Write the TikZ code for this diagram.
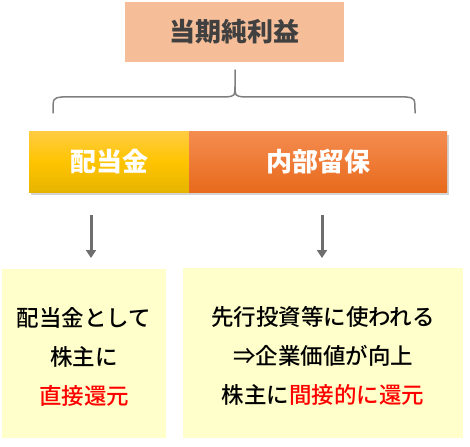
\documentclass[tikz,border=0pt]{standalone}
\usepackage{fontspec}
\setmainfont{Noto Sans CJK JP}
\newfontfamily\medfont{Noto Sans CJK JP Medium}
\usetikzlibrary{shadows,arrows.meta}
\definecolor{peach}{HTML}{F6BE98}
\definecolor{ytop}{HTML}{FFCC40}
\definecolor{ymid}{HTML}{FFC400}
\definecolor{ybot}{HTML}{E6B400}
\definecolor{otop}{HTML}{F48C50}
\definecolor{obot}{HTML}{E86A1C}
\definecolor{pale}{HTML}{FFFFCC}
\definecolor{graybr}{HTML}{7F7F7F}
\definecolor{grayar}{HTML}{6E6E6E}
\definecolor{darktxt}{HTML}{404040}
\definecolor{redtxt}{HTML}{FF0000}
\tikzset{
  box/.style={inner sep=0pt, outer sep=0pt, anchor=north west},
  barlabel/.style={text=white, font=\bfseries\fontsize{26}{30}\selectfont},
  bodytext/.style={font=\medfont\fontsize{22.5}{39}\selectfont, align=center, text=black},
  arr/.style={draw=grayar, line width=3pt, -{Triangle[width=10pt,length=8pt]}},
}
\begin{document}
\begin{tikzpicture}[x=1pt,y=-1pt]
\useasboundingbox (0,0) rectangle (470,446);
% top box
\node[box, fill=peach, minimum width=219pt, minimum height=60pt] (top) at (125,2) {};
\node[text=darktxt, font=\bfseries\fontsize{26}{30}\selectfont] (toplbl) at (top.center) {当期純利益};
% brace
\draw[graybr, line width=1.5pt, line cap=round, line join=round]
  (53,113) .. controls (53,98) .. (62,97) -- (226,97) .. controls (235,96) .. (235,86) -- (235,70)
  (235,86) .. controls (235,96) .. (244,97) -- (406,97) .. controls (415,98) .. (415,113);
% bar
\node[box, drop shadow={shadow xshift=2pt, shadow yshift=-3pt, opacity=0.35}, minimum width=418pt, minimum height=60pt] (bar) at (29,132) {};
\node[box, top color=ytop, bottom color=ybot, middle color=ymid, minimum width=160pt, minimum height=60pt] (div) at (29,132) {};
\node[box, top color=otop, bottom color=obot, minimum width=258pt, minimum height=60pt] (ret) at (189,132) {};
\node[barlabel] (divlbl) at (div.center) {配当金};
\node[barlabel] (retlbl) at (ret.center) {内部留保};
% lower boxes
\node[box, fill=pale, minimum width=164pt, minimum height=169pt] (lbox) at (2,269) {};
\node[box, fill=pale, minimum width=280pt, minimum height=170pt] (rbox) at (183,268) {};
\node[bodytext] (ltext) at ([yshift=-3pt]lbox.center) {配当金として\\株主に\\\textcolor{redtxt}{直接還元}};
\node[bodytext] (rtext) at ([yshift=-3pt]rbox.center) {先行投資等に使われる\\⇒企業価値が向上\\株主に\textcolor{redtxt}{間接的に還元}};
% arrows
\coordinate (la) at (91,215);
\coordinate (ra) at (322,215);
\draw[arr] (la) -- (91,258);
\draw[arr] (ra) -- (322,258);
\end{tikzpicture}
\end{document}
